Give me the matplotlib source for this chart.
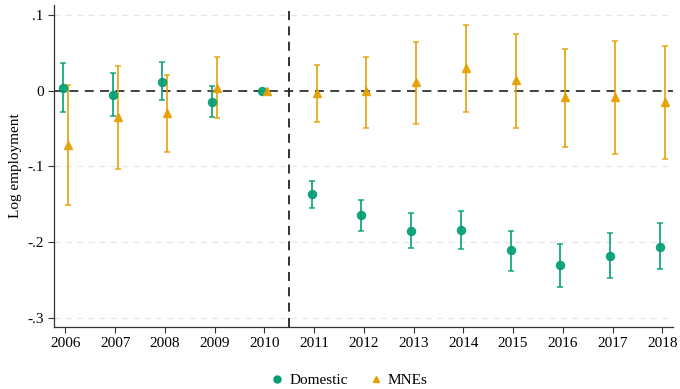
import numpy as np
import matplotlib
matplotlib.use("Agg")
import matplotlib.pyplot as plt

plt.rcParams['font.family'] = ['Liberation Serif', 'DejaVu Serif']

years = np.arange(2006, 2019)

# domestic firms: point estimate and 95% CI
dom_est = [0.004, -0.006, 0.012, -0.015, 0.0, -0.137, -0.165, -0.185, -0.184, -0.211, -0.231, -0.219, -0.206]
dom_hi = [0.037, 0.023, 0.038, 0.006, 0.0, -0.119, -0.145, -0.162, -0.159, -0.185, -0.203, -0.188, -0.175]
dom_lo = [-0.028, -0.033, -0.013, -0.035, 0.0, -0.155, -0.185, -0.208, -0.209, -0.238, -0.259, -0.248, -0.236]

# MNEs
mne_est = [-0.072, -0.035, -0.029, 0.004, 0.0, -0.003, -0.001, 0.011, 0.030, 0.014, -0.009, -0.008, -0.015]
mne_hi = [0.007, 0.032, 0.021, 0.045, 0.0, 0.034, 0.045, 0.064, 0.086, 0.075, 0.055, 0.066, 0.059]
mne_lo = [-0.151, -0.103, -0.081, -0.036, 0.0, -0.042, -0.049, -0.044, -0.028, -0.049, -0.074, -0.084, -0.090]

yticks = [0.1, 0, -0.1, -0.2, -0.3]
ytick_labels = ['.1', '0', '-.1', '-.2', '-.3']

green = '#009E73'
orange = '#E69F00'

fig = plt.figure(figsize=(6.8, 3.89), dpi=100)
ax = fig.add_axes([0.0794, 0.160, 0.9106, 0.827])

dom_est = np.array(dom_est); mne_est = np.array(mne_est)
dom_err = [dom_est - np.array(dom_lo), np.array(dom_hi) - dom_est]
mne_err = [mne_est - np.array(mne_lo), np.array(mne_hi) - mne_est]

for y in [0.1, -0.1, -0.2, -0.3]:
    ax.axhline(y, color='#e6e6e6', lw=0.9, ls=(0, (5, 4)), zorder=0)
ax.axhline(0, color='#333333', lw=1.3, ls=(0, (5, 3.5)), zorder=1)
ax.axvline(2010.5, color='#222222', lw=1.3, ls=(0, (5, 3.5)), zorder=1)

ax.errorbar(years - 0.05, dom_est, yerr=dom_err, fmt='o', color=green, ecolor=green,
            elinewidth=1.3, capsize=2.5, capthick=1.1, ms=5.8, alpha=0.9, label='Domestic', zorder=3)
ax.errorbar(years + 0.05, mne_est, yerr=mne_err, fmt='^', color=orange, ecolor=orange,
            elinewidth=1.3, capsize=2.5, capthick=1.1, ms=5.8, alpha=0.9, label='MNEs', zorder=3)

ax.set_xlim(2005.77, 2018.22)
ax.set_ylim(-0.312, 0.113)
ax.set_xticks(years)
ax.set_xticklabels([str(y) for y in years])
ax.set_yticks(yticks)
ax.set_yticklabels(ytick_labels)
ax.tick_params(labelsize=11, length=4, width=0.8, color='#333333')
ax.set_ylabel('Log employment', fontsize=11)
for s in ['top', 'right']:
    ax.spines[s].set_visible(False)
for s in ['left', 'bottom']:
    ax.spines[s].set_color('#333333')
    ax.spines[s].set_linewidth(0.9)

h1 = plt.Line2D([], [], marker='o', ls='', color=green, ms=5)
h2 = plt.Line2D([], [], marker='^', ls='', color=orange, ms=5)
fig.legend([h1, h2], ['Domestic', 'MNEs'], loc='lower center', bbox_to_anchor=(0.513, -0.03),
           ncol=2, frameon=False, fontsize=11, handletextpad=0.3, columnspacing=1.3, handlelength=1.0)

fig.savefig('out.png', dpi=100)
